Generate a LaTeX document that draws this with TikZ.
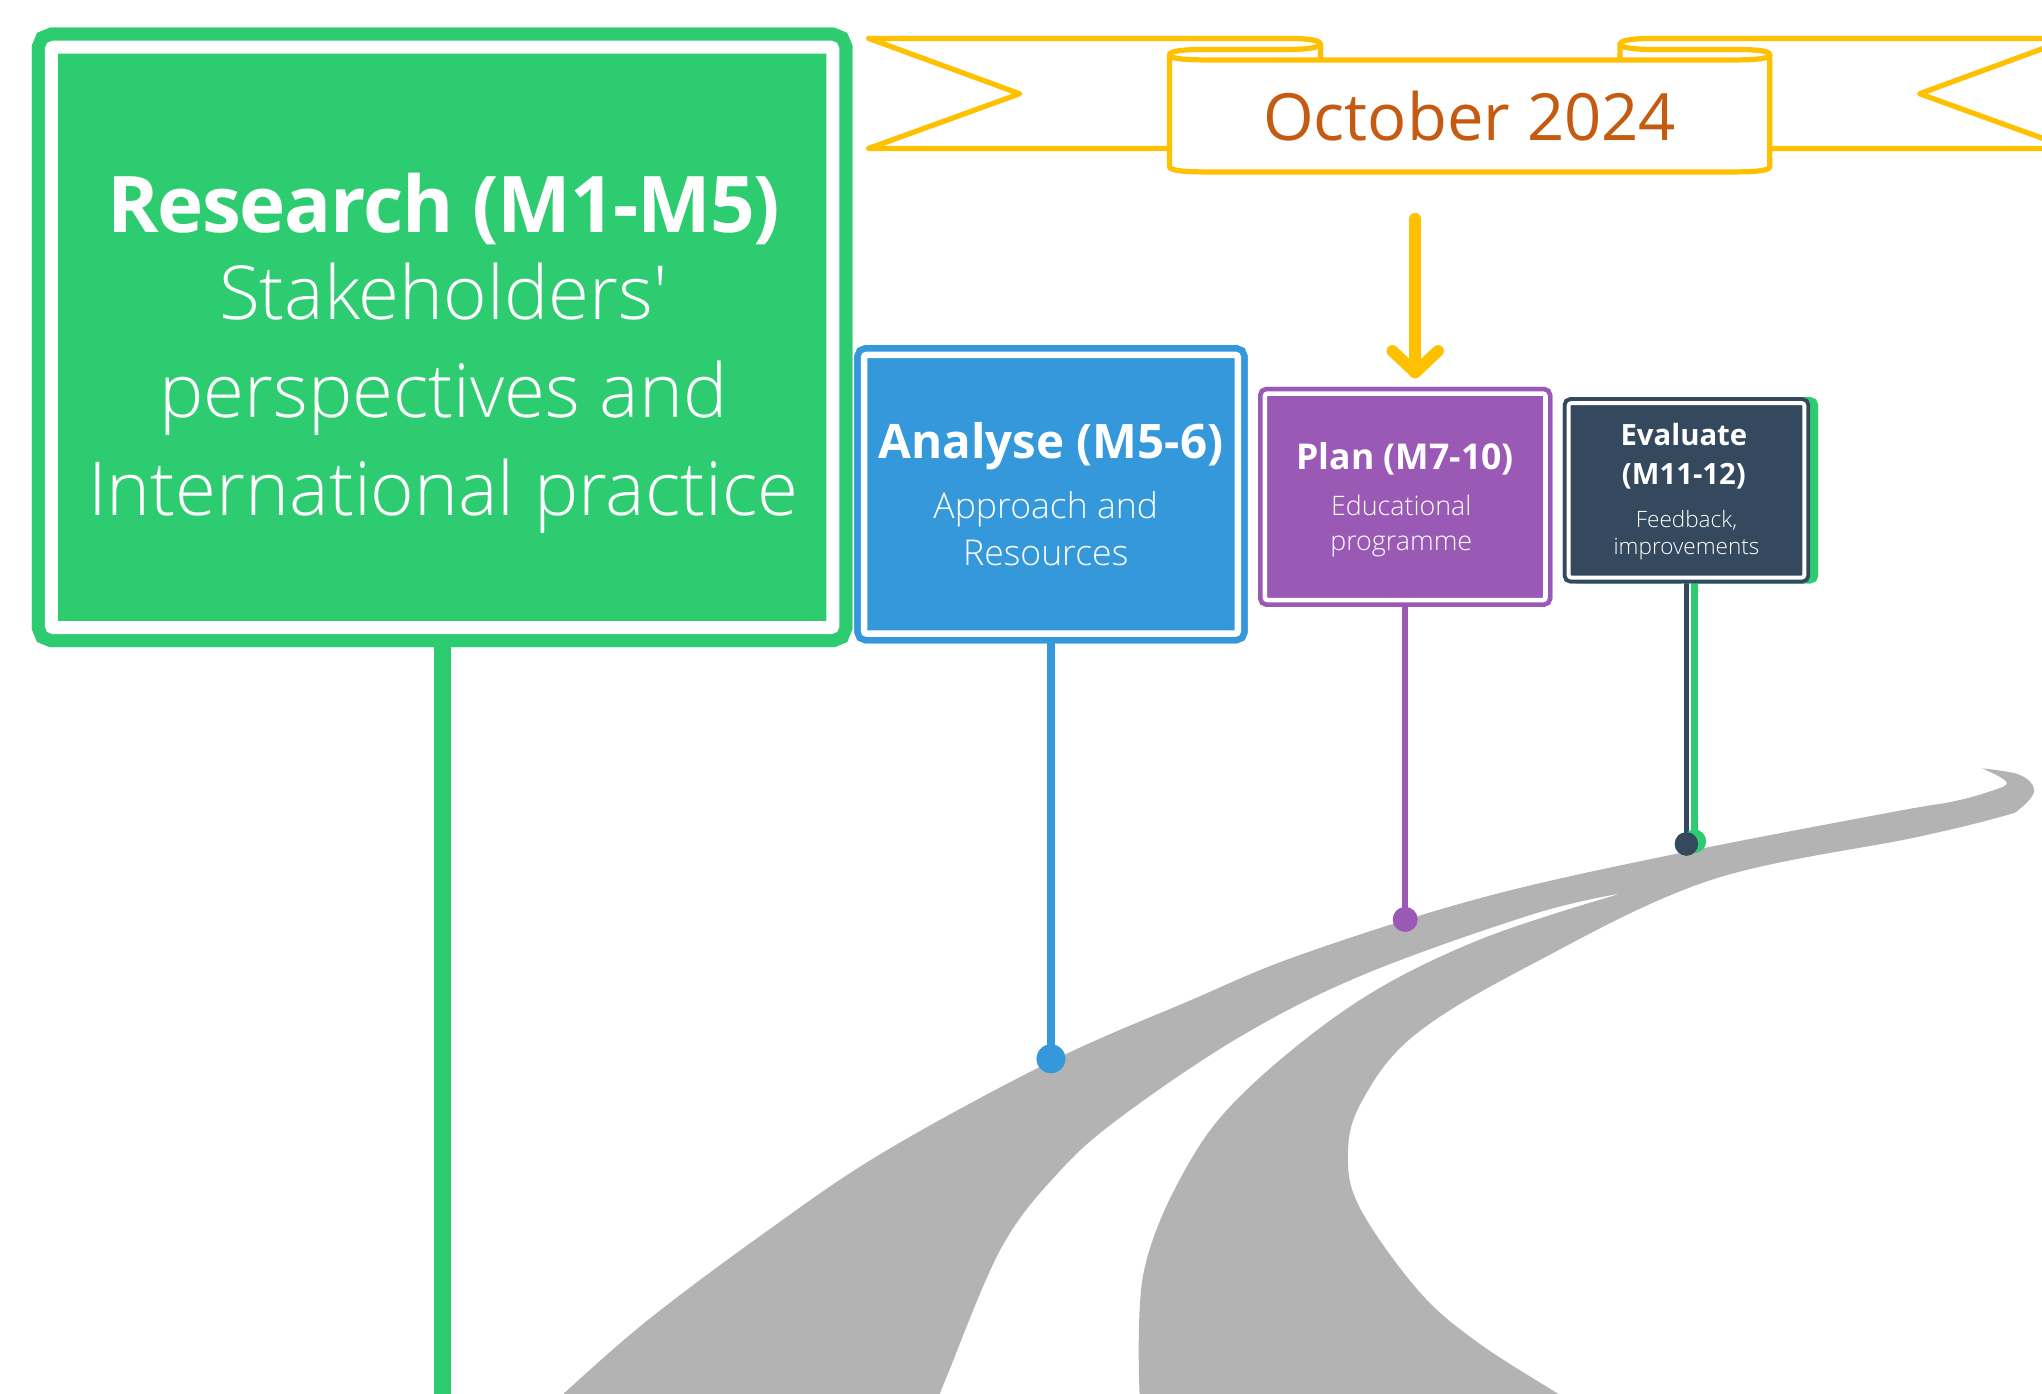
\documentclass[tikz,border=0pt]{standalone}
\usepackage{fontspec}
\setmainfont{Open Sans}
\IfFontExistsTF{Open Sans Light}{\newfontfamily\oslight{Open Sans Light}}{\newfontfamily\oslight{Open Sans}}
\usetikzlibrary{calc}
\definecolor{cgreen}{HTML}{2ECC71}
\definecolor{cblue}{HTML}{3498DB}
\definecolor{cpurple}{HTML}{9B59B6}
\definecolor{cdark}{HTML}{34495E}
\definecolor{croad}{RGB}{179,179,179}
\definecolor{cyellow}{HTML}{FFC000}
\definecolor{corange}{HTML}{C55A11}
\tikzset{
  signbox/.style={draw=#1, fill=#1, double=white, inner sep=0pt, rounded corners=2pt},
  txt/.style={anchor=base, inner sep=0pt, text=white},
  dotnode/.style={circle, fill=#1, inner sep=0pt},
  pole/.style={draw=#1},
  banner/.style={cyellow, line width=4pt, line join=round, line cap=round},
  arrowline/.style={cyellow, line width=9pt, line cap=round, line join=round}
}
\begin{document}
\begin{tikzpicture}[x=1pt,y=-1pt]
\useasboundingbox (0,0) rectangle (1568,1070.4);
\begin{scope}
\clip (0,0) rectangle (1568,1070.4);
% road
\fill[croad] plot[smooth, tension=0.6] coordinates {(433,1070) (497,1014) (588,946) (678,885) (807,815) (912,769) (999,733) (1139,689) (1290,655) (1456,623) (1497,616) (1524,609) (1541,601) (1522,590)}
  -- plot[smooth, tension=0.6] coordinates {(1522,590) (1551,595) (1562,607) (1551,621) (1537,627) (1471,643) (1313,676) (1177,740) (1086,795) (1045,847) (1035,888) (1045,929) (1090,992) (1135,1031) (1196,1070) (1220,1085)}
  -- (875,1085) -- (875,1070)
  -- plot[smooth, tension=0.6] coordinates {(875,1070) (878,978) (909,900) (954,840) (1041,770) (1135,722) (1245,686)}
  -- plot[smooth, tension=0.6] coordinates {(1245,686) (1177,702) (1048,748) (954,795) (863,856) (814,899) (769,958) (727,1057) (722,1070)}
  -- (720,1085) -- (430,1085) -- cycle;

% named anchors for the poles
\coordinate (researchend) at (339.5,1085);
\node[dotnode=cblue, minimum size=22pt] (bluedot) at (807,813) {};
\node[dotnode=cpurple, minimum size=19pt] (purpledot) at (1079,706) {};
\node[dotnode=cgreen, minimum size=18pt] (greendot) at (1301,646) {};
\node[dotnode=cdark, minimum size=18pt] (darkdot) at (1295,648) {};

% sign shapes (named)
\node[draw=cgreen, fill=cgreen, line width=9pt, rounded corners=2pt, inner sep=0pt,
      minimum width=181pt, minimum height=134pt] (evalshadow) at (1301,376.5) {};
\node[signbox=cgreen, line width=10pt, double distance=10pt,
      minimum width=600.2pt, minimum height=445.8pt] (research) at (339.5,259.1) {};
\node[signbox=cblue, line width=5pt, double distance=5pt,
      minimum width=287pt, minimum height=214pt] (analyse) at (807,379.5) {};
\node[signbox=cpurple, line width=3.5pt, double distance=3.5pt,
      minimum width=215.5pt, minimum height=158.5pt] (plan) at (1079,381.5) {};
\node[signbox=cdark, line width=3pt, double distance=3pt,
      minimum width=181pt, minimum height=134pt] (evaluate) at (1295,376.5) {};

% poles
\draw[pole=cgreen, line width=13pt] (research.south) -- (researchend);
\draw[pole=cblue, line width=6pt] (analyse.south) -- (bluedot.center);
\draw[pole=cpurple, line width=5pt] (plan.south) -- (purpledot.center);
\draw[pole=cgreen, line width=5pt] (evalshadow.south) -- (greendot.center);
\draw[pole=white, line width=7pt] (evaluate.south) -- (darkdot.center);
\draw[pole=cdark, line width=4.5pt] (evaluate.south) -- (darkdot.center);
% dots and signs on top of the poles
\node[dotnode=cblue, minimum size=22pt] at (bluedot) {};
\node[dotnode=cpurple, minimum size=19pt] at (purpledot) {};
\node[dotnode=cgreen, minimum size=18pt] at (greendot) {};
\node[dotnode=cdark, minimum size=18pt] at (darkdot) {};
\node[draw=cgreen, fill=cgreen, line width=9pt, rounded corners=2pt, inner sep=0pt,
      minimum width=181pt, minimum height=134pt] at (evalshadow) {};
\node[signbox=cgreen, line width=10pt, double distance=10pt,
      minimum width=600.2pt, minimum height=445.8pt] at (research) {};
\node[signbox=cblue, line width=5pt, double distance=5pt,
      minimum width=287pt, minimum height=214pt] at (analyse) {};
\node[signbox=cpurple, line width=3.5pt, double distance=3.5pt,
      minimum width=215.5pt, minimum height=158.5pt] at (plan) {};
\node[signbox=cdark, line width=3pt, double distance=3pt,
      minimum width=181pt, minimum height=134pt] at (evaluate) {};

% banner
\draw[banner] (898,114) -- (667,114) -- (783,72) -- (667,29.5) -- (988,29.5) .. controls (1008,29.5) and (1014,31.5) .. (1014,34) -- (1014,46);
\draw[banner] (1359,114) -- (1590,114) -- (1474,72) -- (1590,29.5) -- (1270,29.5) .. controls (1250,29.5) and (1244,31.5) .. (1244,34) -- (1244,46);
\draw[banner, fill=white] (898,42) -- (898,128) .. controls (898,131) and (910,132) .. (924,132) -- (1333,132) .. controls (1348,132) and (1359,131) .. (1359,128) -- (1359,42) .. controls (1359,45) and (1348,46) .. (1333,46) -- (924,46) .. controls (910,46) and (898,45) .. (898,42) -- cycle;
\draw[banner] (898,42) .. controls (898,39) and (910,38) .. (924,38) -- (988,38) .. controls (1006,38) and (1014,36) .. (1014,34);
\draw[banner] (1359,42) .. controls (1359,39) and (1348,38) .. (1333,38) -- (1270,38) .. controls (1252,38) and (1244,36) .. (1244,34);
\end{scope}

\node[anchor=base, inner sep=0pt, text=corange, font=\fontsize{50}{60}\selectfont] (date) at (1128.5,108) {October 2024};

% arrow
\coordinate (arrfrom) at (1086.7,168);
\coordinate (arrto) at (1086.7,286);
\draw[arrowline] (arrfrom) -- (arrto);
\draw[arrowline] ($(arrto)+(-17.5,-16.5)$) -- (arrto) -- ($(arrto)+(17.5,-16.5)$);

% texts
\node[txt, font=\bfseries\fontsize{60}{66}\selectfont\addfontfeature{LetterSpace=-1.6}] (t1) at (340.5,178.3) {Research (M1-M5)};
\node[txt, font=\oslight\fontsize{57.2}{60}\selectfont] (t2) at (340.5,245) {Stakeholders'};
\node[txt, font=\oslight\fontsize{57.2}{60}\selectfont] (t3) at (340.5,320.5) {perspectives and};
\node[txt, font=\oslight\fontsize{57.2}{60}\selectfont] (t4) at (340.5,396) {International practice};

\node[txt, font=\bfseries\fontsize{36.5}{40}\selectfont] (a1) at (807,352) {Analyse (M5-6)};
\node[txt, font=\oslight\fontsize{27.3}{30}\selectfont] (a2) at (803,398) {Approach and};
\node[txt, font=\oslight\fontsize{27.3}{30}\selectfont] (a3) at (803,434) {Resources};

\node[txt, font=\bfseries\fontsize{27.3}{30}\selectfont] (p1) at (1079,360.5) {Plan (M7-10)};
\node[txt, font=\oslight\fontsize{20.6}{22}\selectfont] (p2) at (1076,395.5) {Educational};
\node[txt, font=\oslight\fontsize{20.6}{22}\selectfont] (p3) at (1076,422.4) {programme};

\node[txt, font=\bfseries\fontsize{22.5}{26}\selectfont] (e1) at (1293,342) {Evaluate};
\node[txt, font=\bfseries\fontsize{22.5}{26}\selectfont] (e2) at (1293,372) {(M11-12)};
\node[txt, font=\oslight\fontsize{17.3}{19}\selectfont] (e3) at (1295,405) {Feedback,};
\node[txt, font=\oslight\fontsize{17.3}{19}\selectfont] (e4) at (1295,425.5) {improvements};
\end{tikzpicture}
\end{document}
